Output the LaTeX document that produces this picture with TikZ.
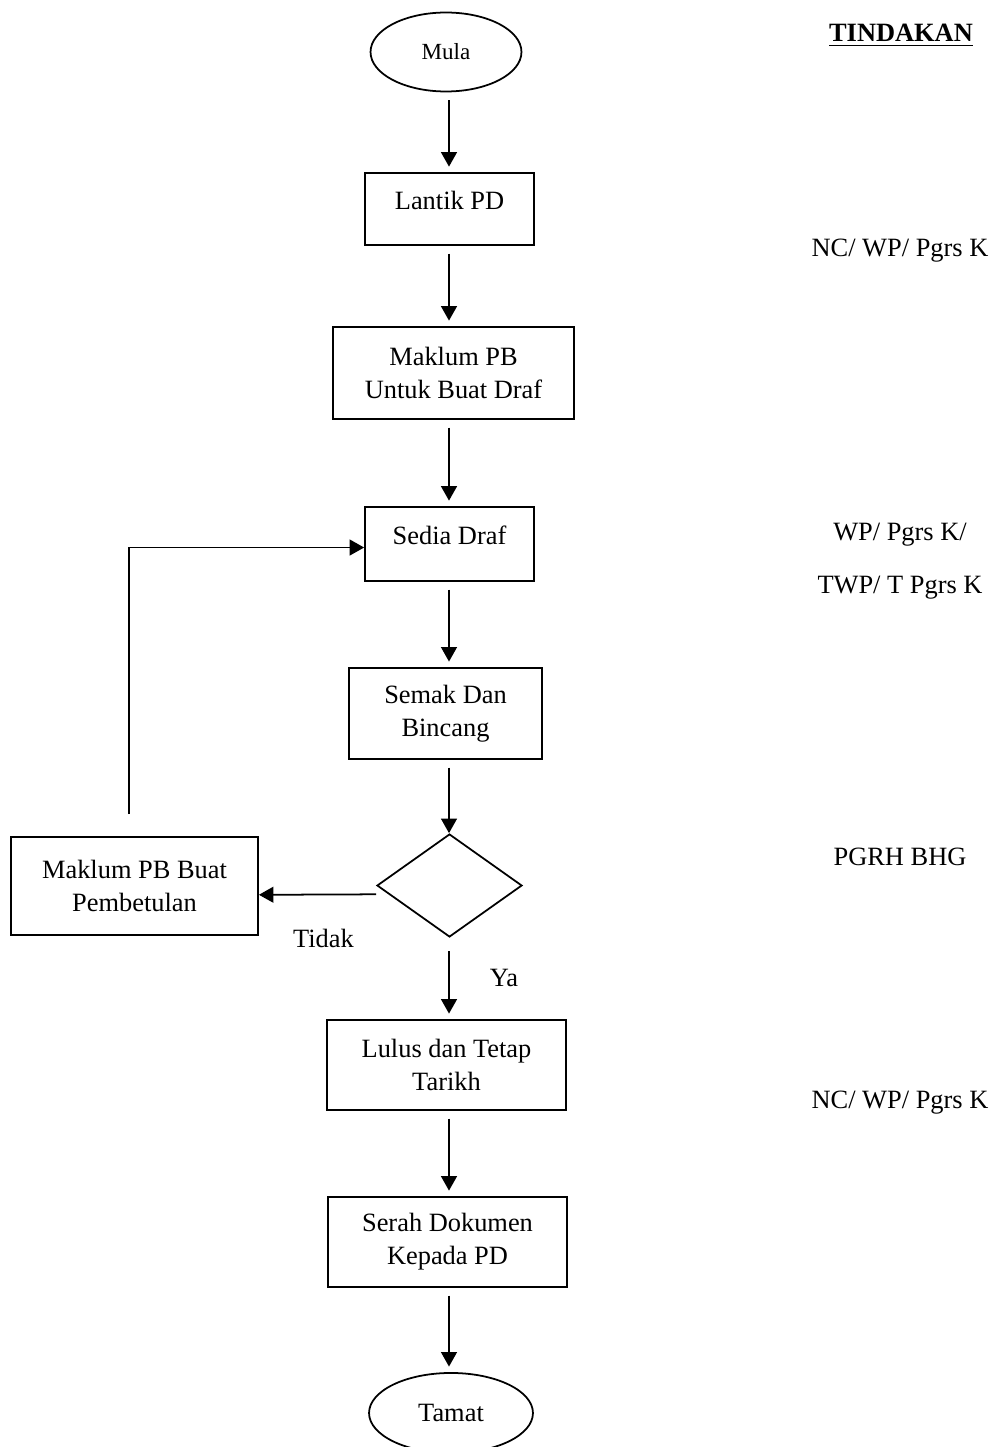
\documentclass[tikz,border=0pt]{standalone}
\usepackage{fontspec}
\setmainfont{Liberation Serif}
\usetikzlibrary{shapes.geometric, arrows.meta}

\begin{document}
\begin{tikzpicture}[x=0.4545pt, y=-0.4545pt,
    every node/.style={font=\fontsize{12}{15}\selectfont},
    stepbox/.style={draw, line width=0.8pt, align=center, inner sep=2pt},
    terminal/.style={draw, ellipse, line width=0.8pt, inner sep=0pt},
    decision/.style={draw, diamond, line width=0.8pt, inner sep=0pt, minimum width=65.9pt, minimum height=46.8pt},
    flow/.style={line width=0.8pt, -{Triangle[width=7.2pt,length=6.6pt]}, shorten <=3.5pt, shorten >=2.5pt},
    role/.style={anchor=base, inner sep=0pt}]
	\useasboundingbox (0,0) rectangle (994,1447);
	% Flow
	\node[terminal, font=\fontsize{10.5}{12}\selectfont, minimum width=68.6pt, minimum height=35.9pt] (mula) at (446,52) {Mula};
	\node[stepbox, text depth=8pt, minimum width=76.8pt, minimum height=32.7pt] (lantik) at (449.5,209) {Lantik PD};
	\node[stepbox, minimum width=109.5pt, minimum height=41.8pt] (maklum) at (453.5,373) {Maklum PB\\Untuk Buat Draf};
	\node[stepbox, text depth=8pt, minimum width=76.8pt, minimum height=33.6pt] (sedia) at (449.5,544) {Sedia Draf};
	\node[stepbox, minimum width=87.7pt, minimum height=41.4pt] (semak) at (445.5,713.5) {Semak Dan\\Bincang};
	\node[decision] (semakan) at (449.5,885.5) {};
	\node[stepbox, minimum width=112.3pt, minimum height=44.5pt] (betul) at (134.5,886) {Maklum PB Buat\\Pembetulan};
	\node[stepbox, minimum width=108.6pt, minimum height=40.9pt] (lulus) at (446.5,1065) {Lulus dan Tetap\\Tarikh};
	\node[stepbox, minimum width=108.6pt, minimum height=40.9pt] (serah) at (447.5,1242) {Serah Dokumen\\Kepada PD};
	\node[terminal, minimum width=74.5pt, minimum height=36.4pt] (tamat) at (451,1413) {Tamat};
	% Arrows
	\coordinate (trunk) at (449,0);
	\coordinate (loop) at (129,0);
	\draw[flow] (mula.south -| trunk) -- (lantik.north -| trunk);
	\draw[flow] (lantik.south -| trunk) -- (maklum.north -| trunk);
	\draw[flow] (maklum.south -| trunk) -- (sedia.north -| trunk);
	\draw[flow] (sedia.south -| trunk) -- (semak.north -| trunk);
	\draw[flow, shorten >=0pt] (semak.south -| trunk) -- (semakan.north -| trunk);
	\draw[flow, shorten <=6pt] (semakan.south -| trunk) -- (lulus.north -| trunk);
	\draw[flow] (lulus.south -| trunk) -- (serah.north -| trunk);
	\draw[flow] (serah.south -| trunk) -- (tamat.north -| trunk);
	\draw[flow, shorten <=0pt, shorten >=0pt] ([yshift=-4pt]semakan.west) -- ([yshift=-4pt]betul.east);
	\draw[flow, shorten <=10pt, shorten >=0pt] (betul.north -| loop) |- ([yshift=-1.6pt]sedia.west);
	% Labels
	\node[role] (tidak) at (323.5,947) {Tidak};
	\node[role] (ya) at (504,986) {Ya};
	% Tindakan
	\node[role, font=\fontsize{12}{15}\selectfont\bfseries] (tindakan) at (901,42) {\underline{TINDAKAN}};
	\node[role] (nc1) at (900,257) {NC/ WP/ Pgrs K};
	\node[role] (wp) at (900,540) {WP/ Pgrs K/};
	\node[role] (twp) at (900,593) {TWP/ T Pgrs K};
	\node[role] (pgrh) at (900,865) {PGRH BHG};
	\node[role] (nc2) at (900,1108) {NC/ WP/ Pgrs K};
\end{tikzpicture}
\end{document}
